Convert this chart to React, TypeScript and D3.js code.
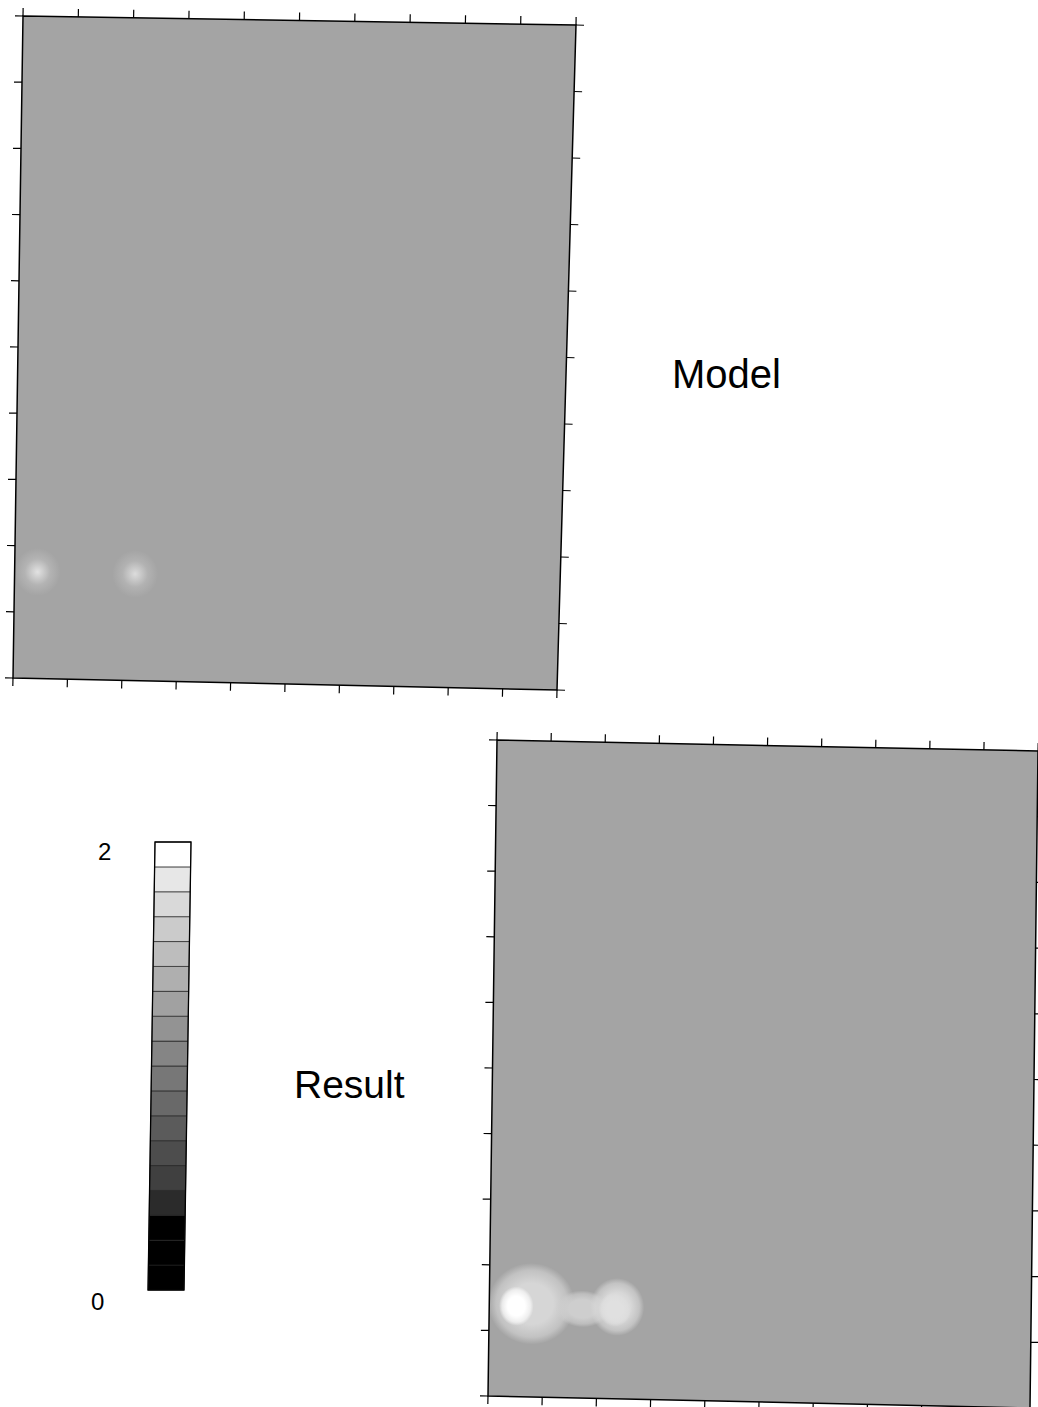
import React, { useEffect, useRef } from "react";
import * as d3 from "d3";

// grid units along each side of the two maps
const axisTicks = [0, 1, 2, 3, 4, 5, 6, 7, 8, 9, 10];

// colour bar
const barValues = [0, 2];
const barSteps = 18;

// homogeneous background value of both maps
const backgroundValue = 1.3;

// anomalies: centre (x, y) in grid units, half widths, peak value
const modelAnomalies = [
  { x: 0.42, y: 1.61, rx: 0.42, ry: 0.36, peak: 1.8 },
  { x: 2.21, y: 1.61, rx: 0.42, ry: 0.36, peak: 1.75 },
];
const resultAnomalies = [
  { x: 0.78, y: 1.42, rx: 0.8, ry: 0.62, peak: 1.7 },
  { x: 1.72, y: 1.36, rx: 0.5, ry: 0.28, peak: 1.64 },
  { x: 2.36, y: 1.4, rx: 0.5, ry: 0.44, peak: 1.72 },
  { x: 2.32, y: 1.36, rx: 0.3, ry: 0.26, peak: 1.78 },
  { x: 0.5, y: 1.38, rx: 0.32, ry: 0.3, peak: 2.0 },
];

type Pt = [number, number];
type Corners = { tl: Pt; tr: Pt; br: Pt; bl: Pt };

// the page was scanned a little askew, so each box is a warped quad
const modelBox: Corners = { tl: [23, 16], tr: [576, 25], br: [557, 690], bl: [13, 678] };
const resultBox: Corners = { tl: [497, 740], tr: [1038, 751], br: [1030, 1408], bl: [488, 1396] };
const barBox: Corners = { tl: [155, 842], tr: [191, 842], br: [184, 1290], bl: [148, 1290] };

const FONT = "'Liberation Sans', Arial, Helvetica, sans-serif";

const grey = d3
  .scaleLinear<string>()
  .domain([0.33, 0.4, 1.83, 1.9])
  .range(["#000000", "#333333", "#e6e6e6", "#ffffff"])
  .clamp(true);

function warp(c: Corners) {
  return (u: number, v: number): Pt => {
    const tx = c.tl[0] + (c.tr[0] - c.tl[0]) * u;
    const ty = c.tl[1] + (c.tr[1] - c.tl[1]) * u;
    const bx = c.bl[0] + (c.br[0] - c.bl[0]) * u;
    const by = c.bl[1] + (c.br[1] - c.bl[1]) * u;
    return [tx + (bx - tx) * v, ty + (by - ty) * v];
  };
}

function quad(p: (u: number, v: number) => Pt, u0: number, u1: number, v0: number, v1: number) {
  const pts = [p(u0, v0), p(u1, v0), p(u1, v1), p(u0, v1)];
  return "M" + pts.map((d) => d.join(",")).join("L") + "Z";
}

function drawMap(svg: any, box: Corners, anomalies: typeof modelAnomalies, id: string, stepped: boolean) {
  const p = warp(box);
  const x = d3.scaleLinear().domain([0, 10]).range([0, 1]);
  const y = d3.scaleLinear().domain([0, 10]).range([1, 0]);
  const defs = svg.append("defs");
  defs.append("clipPath").attr("id", `${id}-clip`).append("path").attr("d", quad(p, 0, 1, 0, 1));

  const g = svg.append("g");
  g.append("path").attr("d", quad(p, 0, 1, 0, 1)).attr("fill", grey(backgroundValue));

  const blobs = g.append("g").attr("clip-path", `url(#${id}-clip)`);
  anomalies.forEach((a, i) => {
    const gid = `${id}-grad-${i}`;
    const grad = defs.append("radialGradient").attr("id", gid);
    const stops = stepped
      ? [
          [0, 1],
          [0.5, 1],
          [0.82, 0.6],
          [1, 0],
        ]
      : [
          [0, 1],
          [0.22, 0.7],
          [0.55, 0.25],
          [1, 0],
        ];
    stops.forEach(([o, op]) =>
      grad.append("stop").attr("offset", o).attr("stop-color", grey(a.peak)).attr("stop-opacity", op)
    );
    // local frame of the warped box around the anomaly
    const c = p(x(a.x), y(a.y));
    const e = 0.001;
    const pu = p(x(a.x) + e, y(a.y));
    const pv = p(x(a.x), y(a.y) + e);
    const k = 0.1 / e;
    const m = [
      (pu[0] - c[0]) * k,
      (pu[1] - c[1]) * k,
      -(pv[0] - c[0]) * k,
      -(pv[1] - c[1]) * k,
      c[0],
      c[1],
    ];
    blobs
      .append("ellipse")
      .attr("transform", `matrix(${m.join(",")})`)
      .attr("rx", a.rx)
      .attr("ry", a.ry)
      .attr("fill", `url(#${gid})`);
  });

  g.append("path")
    .attr("d", quad(p, 0, 1, 0, 1))
    .attr("fill", "none")
    .attr("stroke", "#000")
    .attr("stroke-width", 1.5);

  // ticks on all four sides, pointing outward
  const centre = p(0.5, 0.5);
  const sides: [(t: number) => Pt, Pt, Pt][] = [
    [(t) => p(x(t), 0), p(0, 0), p(1, 0)],
    [(t) => p(x(t), 1), p(0, 1), p(1, 1)],
    [(t) => p(0, y(t)), p(0, 0), p(0, 1)],
    [(t) => p(1, y(t)), p(1, 0), p(1, 1)],
  ];
  sides.forEach(([at, a, b]) => {
    const dx = b[0] - a[0];
    const dy = b[1] - a[1];
    const len = Math.hypot(dx, dy);
    let n: Pt = [dy / len, -dx / len];
    const mx = (a[0] + b[0]) / 2;
    const my = (a[1] + b[1]) / 2;
    if ((mx - centre[0]) * n[0] + (my - centre[1]) * n[1] < 0) n = [-n[0], -n[1]];
    g.append("g")
      .selectAll("line")
      .data(axisTicks)
      .join("line")
      .attr("x1", (t: number) => at(t)[0])
      .attr("y1", (t: number) => at(t)[1])
      .attr("x2", (t: number) => at(t)[0] + n[0] * 8)
      .attr("y2", (t: number) => at(t)[1] + n[1] * 8)
      .attr("stroke", "#000")
      .attr("stroke-width", 1.2);
  });
}

function drawBar(svg: any) {
  const p = warp(barBox);
  const v = d3.scaleLinear().domain(d3.extent(barValues) as [number, number]).range([1, 0]);
  const step = (barValues[1] - barValues[0]) / barSteps;
  const levels = d3.range(barSteps).map((i) => barValues[0] + (i + 0.5) * step);
  const g = svg.append("g");
  g.selectAll("path.band")
    .data(levels)
    .join("path")
    .attr("class", "band")
    .attr("d", (d: number) => quad(p, 0, 1, v(d + step / 2), v(d - step / 2)))
    .attr("fill", (d: number) => grey(d))
    .attr("stroke", "#222")
    .attr("stroke-width", 0.7);
  g.append("path")
    .attr("d", quad(p, 0, 1, 0, 1))
    .attr("fill", "none")
    .attr("stroke", "#000")
    .attr("stroke-width", 1.3);
  g.selectAll("text")
    .data(barValues)
    .join("text")
    .attr("x", (d: number) => p(0, v(d))[0] - 57)
    .attr("y", (d: number) => p(0, v(d))[1] + (d === barValues[1] ? 18 : 20))
    .attr("font-family", FONT)
    .attr("font-size", 24)
    .attr("fill", "#000")
    .text((d: number) => String(d));
}

export default function App() {
  const ref = useRef<SVGSVGElement>(null);

  useEffect(() => {
    const svg = d3.select(ref.current);
    svg.selectAll("*").remove();
    svg.append("rect").attr("width", 1038).attr("height", 1407).attr("fill", "#fff");
    drawMap(svg, modelBox, modelAnomalies, "model", false);
    drawMap(svg, resultBox, resultAnomalies, "result", true);
    drawBar(svg);
    svg
      .append("text")
      .attr("x", 672)
      .attr("y", 388)
      .attr("font-family", FONT)
      .attr("font-size", 40)
      .text("Model");
    svg
      .append("text")
      .attr("x", 294)
      .attr("y", 1098)
      .attr("font-family", FONT)
      .attr("font-size", 39)
      .text("Result");
  }, []);

  return (
    <svg
      ref={ref}
      width={1038}
      height={1407}
      style={{ position: "absolute", left: 0, top: 0, display: "block" }}
    />
  );
}
